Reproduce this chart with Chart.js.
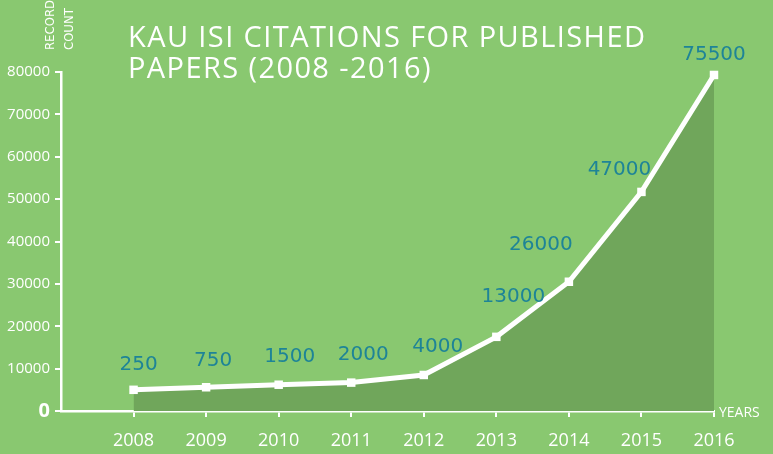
<!DOCTYPE html>
<html>
<head>
<meta charset="utf-8">
<script src="https://cdn.jsdelivr.net/npm/chart.js@4/dist/chart.umd.min.js"></script>
<style>
  html, body { margin: 0; padding: 0; background: #89c870; }
  #wrap { width: 773px; height: 454px; position: relative; }
</style>
</head>
<body>
<div id="wrap"><canvas id="chart" width="773" height="454"></canvas></div>
<script>
// --- Data ---
const years = [2008, 2009, 2010, 2011, 2012, 2013, 2014, 2015, 2016];
const plotted = [5000, 5600, 6200, 6700, 8500, 17500, 30500, 51700, 79300];
const valueLabels = ['250', '750', '1500', '2000', '4000', '13000', '26000', '47000', '75500'];
const yTicks = [0, 10000, 20000, 30000, 40000, 50000, 60000, 70000, 80000];

const BG = '#89c870';
const FILL = '#70a65b';
const TEAL = '#1e8497';
const SANS = "'Open Sans', sans-serif";

// label nudges relative to each point (px)
const labelShift = [[5, -25], [7, -26], [11, -28], [12, -28], [14, -28], [17, -40], [-28, -37], [-22, -22], [0, -20]];

// --- Decorations: title, axis captions, value labels ---
const decorations = {
    id: 'decorations',
    beforeDraw(chart) {
        const ctx = chart.ctx;
        ctx.save();
        ctx.fillStyle = BG;
        ctx.fillRect(0, 0, chart.width, chart.height);
        ctx.restore();
    },
    afterDraw(chart) {
        const ctx = chart.ctx;
        ctx.save();
        // Title
        ctx.fillStyle = '#ffffff';
        ctx.font = '29px ' + SANS;
        ctx.letterSpacing = '1.4px';
        ctx.textAlign = 'left';
        ctx.textBaseline = 'alphabetic';
        ctx.fillText('KAU ISI CITATIONS FOR PUBLISHED', 128, 47);
        ctx.fillText('PAPERS (2008 -2016)', 128, 78);
        ctx.letterSpacing = '0px';

        // RECORD COUNT (rotated)
        ctx.font = "13px 'DejaVu Sans Condensed', " + SANS;
        ctx.save();
        ctx.translate(54, 50);
        ctx.rotate(-Math.PI / 2);
        ctx.fillText('RECORD', 0, 0);
        ctx.fillText('COUNT', 0, 19);
        ctx.restore();

        // YEARS
        ctx.font = '14px ' + SANS;
        ctx.textBaseline = 'middle';
        ctx.fillText('YEARS', 719, 413);

        // value labels
        const meta = chart.getDatasetMeta(0);
        ctx.font = "20px 'DejaVu Sans', sans-serif";
        ctx.fillStyle = TEAL;
        ctx.textAlign = 'center';
        ctx.textBaseline = 'middle';
        meta.data.forEach((pt, i) => {
            const s = labelShift[i];
            ctx.fillText(valueLabels[i], pt.x + s[0], pt.y + s[1]);
        });
        ctx.restore();
    }
};

new Chart(document.getElementById('chart'), {
    type: 'line',
    data: {
        datasets: [{
            data: years.map((y, i) => ({ x: y, y: plotted[i] })),
            borderColor: '#ffffff',
            borderWidth: 5,
            backgroundColor: FILL,
            fill: 'origin',
            tension: 0,
            pointStyle: 'rect',
            pointRadius: 6,
            pointBackgroundColor: '#ffffff',
            pointBorderColor: '#ffffff',
            pointBorderWidth: 0,
            clip: false
        }]
    },
    options: {
        responsive: false,
        animation: false,
        layout: { padding: { top: 72, right: 59, left: 0, bottom: 0 } },
        plugins: { legend: { display: false }, tooltip: { enabled: false } },
        scales: {
            x: {
                type: 'linear',
                min: 2007,
                max: 2016,
                afterFit: s => { s.height = 43; },
                afterBuildTicks: s => { s.ticks = years.map(v => ({ value: v })); },
                grid: { drawOnChartArea: false, drawTicks: true, tickLength: 6, color: '#ffffff', lineWidth: 2 },
                border: { color: '#ffffff', width: 2.5 },
                ticks: {
                    color: '#ffffff',
                    font: { family: SANS, size: 18 },
                    padding: 13,
                    callback: v => String(v)
                }
            },
            y: {
                min: 0,
                max: 80000,
                afterFit: s => { s.width = 61; },
                afterBuildTicks: s => { s.ticks = yTicks.map(v => ({ value: v })); },
                grid: { drawOnChartArea: false, drawTicks: true, tickLength: 6, color: '#ffffff', lineWidth: 2 },
                border: { color: '#ffffff', width: 2.5 },
                ticks: {
                    color: '#ffffff',
                    padding: 5,
                    font: c => c.tick && c.tick.value === 0
                        ? { family: SANS, size: 20, weight: 'bold' }
                        : { family: SANS, size: 15 },
                    callback: v => String(v)
                }
            }
        }
    },
    plugins: [decorations]
});
</script>
</body>
</html>
